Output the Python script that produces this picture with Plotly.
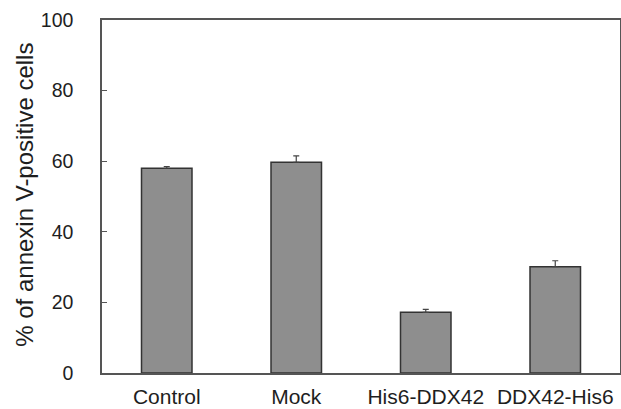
import plotly.graph_objects as go

categories = ["Control", "Mock", "His6-DDX42", "DDX42-His6"]
values = [58.0, 59.7, 17.2, 30.1]
errors = [0.5, 1.8, 0.8, 1.7]
y_ticks = [0, 20, 40, 60, 80, 100]

font = "Liberation Sans, Arial, sans-serif"

fig = go.Figure(go.Bar(
    x=categories, y=values, width=0.39,
    marker=dict(color="#8e8e8e", line=dict(color="#333333", width=1.5)),
    error_y=dict(type="data", symmetric=False, array=errors,
                 arrayminus=[0] * len(errors), color="#444444",
                 thickness=1.2, width=3),
))

fig.update_layout(
    width=621, height=409,
    margin=dict(l=102, r=1, t=20, b=36),
    paper_bgcolor="white", plot_bgcolor="white",
    showlegend=False,
    font=dict(family=font, color="#1e1e1e"),
    xaxis=dict(showline=True, linecolor="#555555", linewidth=1.5, mirror=True,
               automargin=False,
               ticks="", tickfont=dict(size=21, family=font), ticklabelstandoff=4),
    yaxis=dict(range=[0, 100], tickvals=y_ticks, showline=True,
               automargin=False,
               linecolor="#555555", linewidth=1.5, mirror=True,
               ticks="inside", ticklen=5, tickcolor="#555555", showgrid=False,
               zeroline=False, tickfont=dict(size=19.5, family=font),
               ticklabelstandoff=23),
    annotations=[dict(text="% of annexin V-positive cells", textangle=-90,
                      xref="paper", yref="paper", x=-77 / 518, y=0.505,
                      xanchor="center", yanchor="middle", showarrow=False,
                      font=dict(size=24, family=font, color="#1e1e1e"))],
)

fig.write_html(
    "out.html",
    config={"displayModeBar": False},
    post_script="document.body.style.margin='0';document.body.style.overflow='hidden';",
)
